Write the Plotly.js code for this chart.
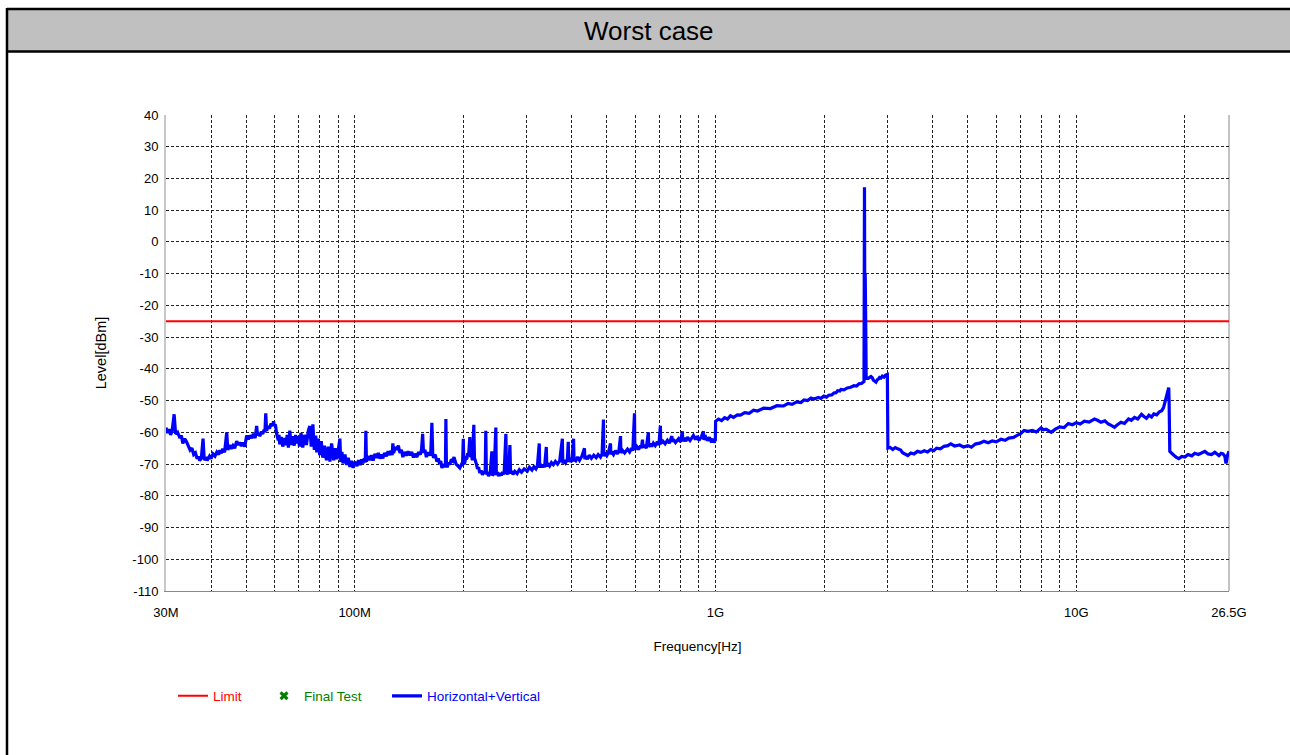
<!DOCTYPE html>
<html>
<head>
<meta charset="utf-8">
<script src="https://cdn.plot.ly/plotly-3.0.1.min.js"></script>
<style>
html,body{margin:0;padding:0;background:#fff;}
#chart{width:1290px;height:755px;}
</style>
</head>
<body>
<div id="chart"></div>
<script>
// ---- data: [frequency MHz, level dBm] ----
const band30to200M = [
[30,-58.5],[30.3,-60.2],[30.6,-59],[30.9,-60.8],[31.2,-59.5],[31.6,-54.3],[31.9,-60.5],[32.3,-60],[32.8,-61.8],[33.1,-61],
[33.4,-63.5],[33.8,-62],[34.2,-63],[34.6,-64.5],[35.0,-65.6],[35.4,-65],[35.8,-67],[36.2,-66.5],[36.6,-68.3],[36.9,-67.6],
[37.2,-68.9],[37.6,-68],[38.0,-62],[38.3,-68.8],[38.7,-67.8],[39.0,-68.9],[39.6,-67.5],[40.0,-68.3],[40.5,-66.8],[41.0,-67.5],
[41.5,-66.2],[42.0,-67],[42.3,-65.6],[42.7,-66.6],[43.1,-65.2],[43.6,-66.3],[44.2,-60],[44.5,-65.5],[45.1,-64],[45.5,-65.2],
[46.0,-64.2],[46.5,-65],[47.1,-62.8],[47.6,-64],[48.0,-63.2],[48.5,-64.3],[49.0,-63.3],[49.6,-64.5],[50.2,-61],[50.7,-62.2],
[51.2,-61],[51.8,-61.8],[52.4,-60.5],[53.0,-61.8],[53.5,-58],[53.8,-61],[54.2,-60.2],[54.6,-61.2],[55.1,-59.8],[55.6,-60.5],
[56.1,-59.2],[56.4,-60],[56.7,-54],[57.0,-59.5],[57.5,-58],[58.1,-58.8],[58.6,-57.3],[59.2,-58],[59.6,-56.5],[59.9,-58],
[60.3,-57.5],[60.8,-60.5],[61.4,-62.5],[61.7,-60.8],[62.0,-63.8],[62.6,-61.5],[63.2,-64.5],[63.8,-61.8],[64.5,-64],[65.0,-60.8],
[65.5,-64.8],[66.1,-59.5],[66.7,-64],[67.3,-61.2],[68.0,-64.2],[68.6,-60.8],[69.1,-63.5],[69.7,-61.2],[70.3,-64.5],[71.0,-60.2],
[71.8,-64.8],[72.6,-60.8],[73.5,-64],[74.4,-59.5],[75.1,-58],[75.8,-64.5],[76.6,-57.5],[77.3,-65.5],[78.0,-61],[78.5,-66.3],
[79.3,-62],[80.0,-67.2],[80.8,-62.8],[81.6,-68],[82.5,-64.2],[83.5,-68.8],[84.5,-64.5],[85.4,-69.2],[86.3,-63.5],[87.5,-68.8],
[88.3,-65],[89.3,-68.5],[90.2,-64.5],[91.0,-62],[91.5,-69.3],[92.2,-66.2],[92.8,-69.8],[94.0,-67],[95.0,-70.3],[96.0,-68],
[97.0,-70.9],[98.0,-69],[99.0,-71.2],[100.0,-69.3],[101.5,-70.6],[102.5,-68.8],[103.5,-70.3],[104.5,-68.5],[105.4,-69.8],[106.3,-68.2],
[107.0,-69.5],[107.4,-59.5],[107.8,-69.2],[109.0,-67.5],[110.2,-68.8],[111.3,-67.2],[112.5,-68.9],[113.8,-66.8],[115.2,-68],[116.3,-66.5],
[117.5,-68.3],[118.6,-67],[119.7,-68.2],[121.0,-66.5],[122.5,-67.5],[123.8,-66],[125.2,-67.2],[126.2,-65.8],[127.0,-67.2],[127.6,-63.5],
[128.2,-66.5],[129.5,-65],[130.9,-65.2],[132.2,-64.2],[133.5,-66.5],[134.8,-65.5],[136.0,-67.8],[137.5,-66.2],[139.0,-67.3],[140.6,-66],
[142.3,-67.2],[143.9,-66.2],[145.5,-67.9],[147.1,-66.8],[148.8,-67.8],[150.4,-66.2],[152.0,-67],[153.2,-65.5],[154.3,-60.5],[155.2,-66.5],
[156.6,-65.5],[158.0,-67.8],[159.7,-66.3],[161.5,-67.3],[162.6,-66],[163.7,-57],[164.6,-67],[165.5,-68],[167.2,-67],[169.0,-69.2],
[170.5,-68.2],[172.0,-70],[173.2,-69],[174.5,-71.2],[176.0,-70],[177.5,-71],[178.5,-70],[179.0,-55.8],[179.6,-70.2],[180.5,-71],
[182.0,-69.5],[183.6,-70.2],[185.3,-68.5],[187.1,-69],[188.5,-67.8],[190.0,-69.3],[191.0,-70],[193.0,-70.5],[195.6,-71.2],[197.5,-70.2],
[199.0,-70.5]
];
const band200Mto1G = [
[200.0,-62],[200.8,-70],[202.0,-69.5],[203.0,-68.2],[204.5,-68.5],[205.5,-67],[207.0,-67],[208.5,-61.5],[209.5,-67.8],[210.5,-67],
[212.0,-68.8],[213.9,-57.6],[214.8,-68],[216.0,-69.5],[217.5,-70],[219.0,-71.5],[220.5,-71],[222.2,-72.8],[224.0,-72],[226.0,-73.4],
[228.0,-72.3],[230.0,-73],[230.9,-59.5],[231.8,-73.3],[233.5,-72.5],[235.0,-73.8],[237.5,-72.8],[240.0,-66],[240.8,-73.6],[243.5,-72.8],
[246.2,-58.5],[247.0,-73.5],[249.0,-72.6],[251.0,-73.8],[252.6,-72.8],[255.0,-73.6],[257.0,-72.5],[259.5,-73.3],[262.5,-60.5],[263.5,-72.6],
[265.5,-73.2],[267.5,-72.2],[269.3,-64],[270.5,-73],[272.5,-72.2],[274.6,-73.3],[278.0,-72.3],[282.0,-73],[286.0,-71.8],[290.0,-72.6],
[295.0,-71.5],[300.9,-72.2],[305.0,-71],[310.0,-71.9],[314.0,-70.8],[318.0,-71.5],[321.0,-70.5],[324.8,-63.5],[325.8,-71.2],[326.9,-70],
[330.0,-71],[333.0,-70.2],[336.0,-71],[339.7,-64.6],[340.8,-70.8],[343.0,-69.8],[347.0,-70.6],[351.0,-69.5],[355.3,-70.2],[360.0,-69.2],
[365.0,-70],[370.0,-69],[376.4,-62],[377.5,-69.8],[380.0,-68.8],[384.0,-69.6],[388.6,-68.5],[390.8,-63],[392.0,-69.3],[395.0,-68.5],
[400.0,-69.3],[404.3,-62],[405.5,-68.6],[410.0,-69],[415.0,-67.8],[420.0,-68.8],[426.0,-67.6],[433.4,-65],[434.5,-68.5],[437.0,-67.6],
[441.8,-68.4],[447.0,-67.2],[453.0,-68.2],[460.0,-67.2],[467.0,-68],[473.0,-67],[480.0,-67.8],[485.0,-66.8],[489.3,-56],[490.5,-67.5],
[495.0,-66.5],[500.0,-67.3],[505.0,-66.4],[511.7,-63.5],[513.0,-67],[516.0,-66.2],[521.6,-67],[528.0,-65.8],[535.0,-66.8],[540.0,-65.8],
[545.5,-61.2],[547.0,-66.5],[552.0,-65.6],[560.0,-66.5],[570.4,-65.3],[578.0,-66.2],[585.0,-65],[590.0,-65.8],[596.4,-54],[597.8,-65.5],
[605.0,-64.5],[612.0,-65.4],[619.6,-64.2],[623.0,-65],[627.7,-62.3],[629.5,-64.8],[635.0,-64],[643.0,-65],[651.6,-60],[653.0,-64.6],
[660.0,-63.6],[666.0,-64.5],[672.8,-63.4],[681.0,-64.2],[690.0,-63],[697.0,-64],[703.5,-57.9],[705.0,-63.6],[715.0,-62.8],[725.0,-63.6],
[735.6,-62.5],[745.0,-63.4],[757.0,-61.2],[759.0,-63],[764.4,-62.2],[775.0,-63.2],[790.0,-62],[800.0,-63],[809.6,-59.7],[811.5,-62.8],
[820.0,-61.8],[828.0,-62.8],[835.9,-61.5],[850.0,-62.6],[868.6,-61],[880.0,-62.3],[890.0,-61.2],[900.0,-62.5],[913.0,-61.5],[926.0,-59.7],
[928.0,-62.3],[940.0,-61.5],[950.0,-62.6],[962.0,-61.6],[975.0,-63.2],[985.0,-62],[990.0,-63.3],[995.0,-62.2],[999.0,-62.8]
];
const band1Gto3G = [
[1001,-56.5],[1020,-55.8],[1040,-56.3],[1060,-55.4],[1080,-55.8],[1100,-54.8],[1122,-55.3],[1150,-54.5],[1173,-54.6],[1205,-53.8],
[1240,-54],[1275,-53],[1308,-53.3],[1360,-52.4],[1420,-52.5],[1480,-51.6],[1545,-51.7],[1590,-50.9],[1630,-51.2],[1680,-50.4],
[1724,-50.6],[1760,-49.8],[1800,-50],[1840,-49.2],[1872,-49.5],[1930,-49],[1960,-49.3],[1997,-48.6],[2030,-48.9],[2060,-48.3],
[2100,-48.2],[2129,-47.6],[2160,-47.5],[2180,-46.9],[2210,-47],[2227,-46.5],[2270,-46.6],[2320,-46],[2370,-45.8],[2420,-45.3],
[2460,-45.4],[2500,-44.7],[2540,-44.6],[2580,-44],[2588,17.2],[2596,-43.5],[2600,-9.8],[2606,-43.3],[2610,-28.3],[2616,-43],
[2650,-43],[2697,-42.4],[2720,-42.8],[2740,-43.6],[2760,-44],[2785,-44.2],[2810,-43.4],[2830,-43.2],[2850,-42.7],[2875,-42.9],
[2900,-42.3],[2930,-42.6],[2960,-42],[2995,-41.8]
];
const band3Gto26G = [
[3005,-65],[3050,-64.8],[3100,-65.4],[3150,-64.8],[3200,-65.2],[3260,-65.6],[3300,-66.4],[3360,-66.8],[3412,-67.3],[3480,-66.5],
[3550,-66.8],[3630,-66],[3708,-66.3],[3790,-65.8],[3870,-66.2],[3950,-65.4],[4029,-65.8],[4100,-65],[4200,-65.2],[4300,-64.4],
[4405,-64.2],[4488,-63.6],[4600,-64.3],[4750,-64],[4870,-64.6],[5004,-64.2],[5120,-64.7],[5250,-63.7],[5400,-63.4],[5546,-62.8],
[5700,-63.3],[5850,-62.7],[6000,-63],[6185,-62.2],[6350,-62.5],[6500,-61.8],[6700,-61.6],[6897,-60.8],[7000,-60.5],[7166,-59.4],
[7350,-59.7],[7550,-59.4],[7750,-59.9],[7990,-58.6],[8100,-59.2],[8250,-59],[8400,-59.6],[8522,-60],[8750,-59],[9000,-58.3],
[9250,-58.5],[9505,-57.2],[9750,-57.6],[10000,-57],[10250,-57.4],[10530,-56.5],[10850,-56.8],[11230,-55.8],[11450,-56.2],[11700,-56.8],
[12000,-56.4],[12280,-57.4],[12500,-57.8],[12760,-58.4],[13000,-57.6],[13300,-56.8],[13600,-57.2],[13960,-55.8],[14200,-56.2],[14500,-55.3],
[14800,-55.8],[15160,-54.3],[15400,-55],[15650,-55.6],[15900,-54.6],[16170,-55.2],[16400,-54.2],[16700,-54.5],[17000,-53.5],[17250,-53.2],
[17450,-52.2],[17550,-51],[17700,-49.5],[17810,-48.8],[17950,-47.2],[18040,-45.9],[18080,-50],[18120,-58],[18160,-66],[18350,-66.5],
[18600,-67.2],[18900,-67.8],[19240,-68.3],[19600,-67.6],[20000,-67.8],[20400,-67],[20900,-67.4],[21300,-66.6],[21800,-67],[22250,-66.5],
[22720,-66],[23200,-66.8],[23700,-67],[24200,-66.3],[24850,-67.3],[25200,-66.6],[25500,-66.8],[25800,-67.5],[26000,-69.8],[26250,-67.2],
[26500,-66]
];
const limitFreqMHz = [30, 26500];
const limitDbm = [-25, -25];

const gridFreqMHz = [30,40,50,60,70,80,90,100,200,300,400,500,600,700,800,900,
  1000,2000,3000,4000,5000,6000,7000,8000,9000,10000,20000,26500];
const labelFreqMHz = [30,100,1000,10000,26500];
const labelText = ['30M','100M','1G','10G','26.5G'];
const levelTicks = [-110,-100,-90,-80,-70,-60,-50,-40,-30,-20,-10,0,10,20,30,40];

const titleText = 'Worst case';
const xTitle = 'Frequency[Hz]';
const yTitle = 'Level[dBm]';
const seriesNames = ['Limit', 'Final Test', 'Horizontal+Vertical'];

// ---- layout geometry ----
const W = 1290, H = 755;
const M = {l:166, r:61, t:115, b:164};
const PW = W - M.l - M.r, PH = H - M.t - M.b;
const px = v => (v - M.l) / PW;
const py = v => (H - M.b - v) / PH;

const sweep = band30to200M.concat(band200Mto1G, band1Gto3G, band3Gto26G);
const tickText = gridFreqMHz.map(f => {
  const i = labelFreqMHz.indexOf(f);
  return i >= 0 ? labelText[i] : '';
});

const FONT = '"Liberation Sans", Arial, sans-serif';

const traces = [
  {
    x: limitFreqMHz, y: limitDbm, type: 'scatter', mode: 'lines', legend: 'legend',
    name: '<span style="color:#ff0000">' + seriesNames[0] + '</span>',
    line: {color: '#ff0000', width: 2}
  },
  {
    x: [1000], y: [null], type: 'scatter', mode: 'markers', legend: 'legend2',
    name: '<span style="color:#008000">' + seriesNames[1] + '</span>',
    marker: {symbol: 'x', color: '#008000', size: 8}
  },
  {
    x: sweep.map(p => p[0]), y: sweep.map(p => p[1]), type: 'scatter', mode: 'lines', legend: 'legend3',
    name: '<span style="color:#0000ff">' + seriesNames[2] + '</span>',
    line: {color: '#0000ff', width: 3.2}
  }
];

const legendBase = {orientation: 'h', xanchor: 'left', yanchor: 'middle', y: py(696),
  font: {family: FONT, size: 13.5}, bgcolor: 'rgba(0,0,0,0)'};

const layout = {
  width: W, height: H,
  margin: M,
  paper_bgcolor: '#ffffff',
  plot_bgcolor: '#ffffff',
  font: {family: FONT, size: 13, color: '#000'},
  showlegend: true,
  legend: Object.assign({}, legendBase, {x: px(173)}),
  legend2: Object.assign({}, legendBase, {x: px(264)}),
  legend3: Object.assign({}, legendBase, {x: px(387)}),
  xaxis: {
    type: 'log',
    range: [Math.log10(30), Math.log10(26500)],
    tickmode: 'array', tickvals: gridFreqMHz, ticktext: tickText,
    ticks: '', ticklabelstandoff: 9, showgrid: true, gridcolor: '#222', griddash: '3px,2px', gridwidth: 1,
    showline: true, linecolor: '#888', linewidth: 1, mirror: false,
    zeroline: false, tickfont: {family: FONT, size: 13},
    title: {text: xTitle, font: {family: FONT, size: 13.5}, standoff: 22},
    automargin: false
  },
  yaxis: {
    range: [-110, 40],
    tickmode: 'array', tickvals: levelTicks, ticktext: levelTicks.map(v => String(v)),
    ticks: '', showgrid: true, gridcolor: '#222', griddash: '3px,2px', gridwidth: 1,
    showline: true, linecolor: '#c8c8c8', linewidth: 2,
    zeroline: false, tickfont: {family: FONT, size: 13}, ticklabelstandoff: 3,
    title: {text: yTitle, font: {family: FONT, size: 14.5}, standoff: 22},
    automargin: false
  },
  shapes: [
    {type:'line', xref:'paper', yref:'paper', x0:1, x1:1, y0:0, y1:1, line:{color:'#888', width:1}, layer:'below'},
    {type:'rect', xref:'paper', yref:'paper', x0:px(7), x1:px(1295), y0:py(52), y1:py(9),
      fillcolor:'#c0c0c0', line:{color:'#000', width:0}, layer:'below'},
    {type:'line', xref:'paper', yref:'paper', x0:px(7), x1:px(1295), y0:py(9), y1:py(9), line:{color:'#000', width:2.5}},
    {type:'line', xref:'paper', yref:'paper', x0:px(7), x1:px(1295), y0:py(51.5), y1:py(51.5), line:{color:'#000', width:2.5}},
    {type:'line', xref:'paper', yref:'paper', x0:px(7), x1:px(7), y0:py(8), y1:py(760), line:{color:'#000', width:2.5}}
  ],
  annotations: [
    {text: titleText, xref:'paper', yref:'paper', x: px(649), y: py(31), xanchor:'center', yanchor:'middle',
     showarrow:false, font:{family: FONT, size: 26, color:'#000'}}
  ]
};

Plotly.newPlot('chart', traces, layout, {displayModeBar: false, staticPlot: true});
</script>
</body>
</html>
